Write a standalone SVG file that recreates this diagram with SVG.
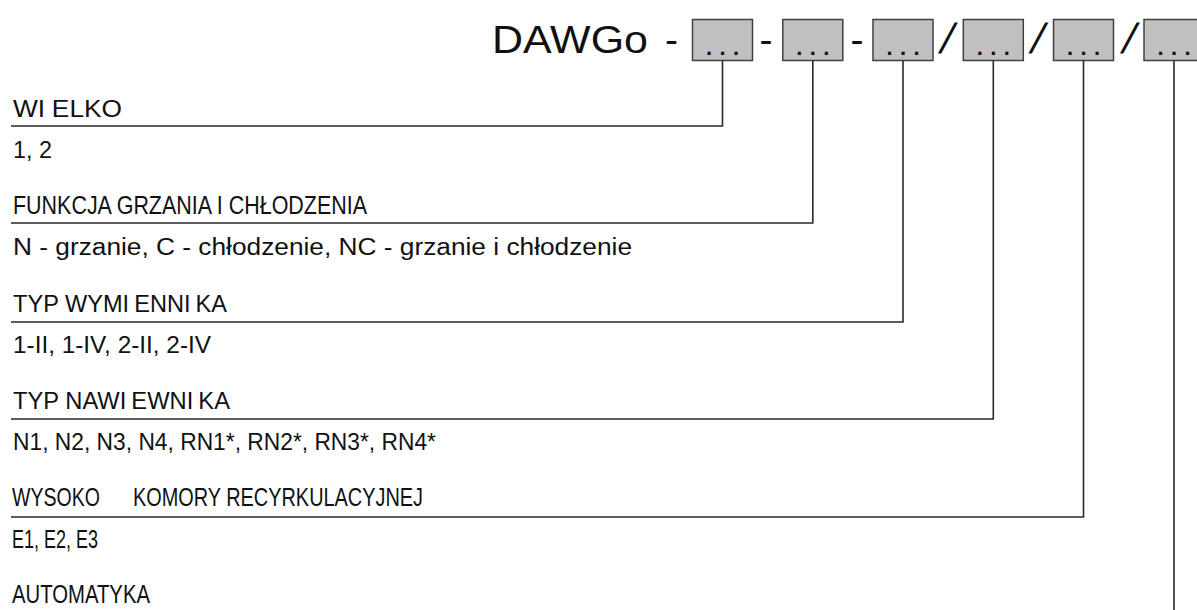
<svg xmlns="http://www.w3.org/2000/svg" width="1197" height="610" viewBox="0 0 1197 610">
<style>
  .t { font-family: "Liberation Sans", Arial, sans-serif; font-size: 23.5px; fill: #111; }
  .n { font-family: "Liberation Sans", Arial, sans-serif; font-size: 25px; fill: #111; }
  .big { font-family: "Liberation Sans", Arial, sans-serif; font-size: 39px; fill: #111; }
  .sl { font-family: "Liberation Sans", Arial, sans-serif; font-size: 42px; fill: #111; }
  .box { fill: #c0c0c0; stroke: #404040; stroke-width: 1.5; }
  .dots { font-family: "Liberation Sans", Arial, sans-serif; font-size: 22px; font-weight: bold; fill: #111; letter-spacing: 7.4px; }
  .c { fill: none; stroke: #2a2a2a; stroke-width: 1.6; }
</style>
<rect width="1197" height="610" fill="#ffffff"/>

<g id="title">
  <text class="big" x="492" y="53" textLength="156" lengthAdjust="spacingAndGlyphs">DAWGo</text>
  <text class="big" x="665" y="53">-</text>
  <text class="big" x="759.5" y="53">-</text>
  <text class="big" x="850.5" y="53">-</text>
  <text class="sl" transform="translate(943.8,53) skewX(-15)" text-anchor="middle">/</text>
  <text class="sl" transform="translate(1034.3,53) skewX(-15)" text-anchor="middle">/</text>
  <text class="sl" transform="translate(1125.8,53) skewX(-15)" text-anchor="middle">/</text>
</g>

<g id="box1"><rect class="box" x="692.5" y="19.5" width="60" height="41"/><text class="dots" x="705.9" y="55">...</text></g>
<g id="box2"><rect class="box" x="782.8" y="19.5" width="60" height="41"/><text class="dots" x="796.2" y="55">...</text></g>
<g id="box3"><rect class="box" x="873" y="19.5" width="60" height="41"/><text class="dots" x="886.4" y="55">...</text></g>
<g id="box4"><rect class="box" x="963.3" y="19.5" width="60" height="41"/><text class="dots" x="976.7" y="55">...</text></g>
<g id="box5"><rect class="box" x="1053.5" y="19.5" width="60" height="41"/><text class="dots" x="1066.9" y="55">...</text></g>
<g id="box6"><rect class="box" x="1144" y="19.5" width="60" height="41"/><text class="dots" x="1157.4" y="55">...</text></g>

<g id="connectors">
  <polyline class="c" points="722.5,60.5 722.5,126 11,126"/>
  <polyline class="c" points="812.8,60.5 812.8,223 11,223"/>
  <polyline class="c" points="903,60.5 903,322 11,322"/>
  <polyline class="c" points="993.3,60.5 993.3,419 11,419"/>
  <polyline class="c" points="1083.5,60.5 1083.5,517 11,517"/>
  <polyline class="c" points="1174,60.5 1174,610"/>
</g>

<g id="field1">
  <text class="t" x="13" y="117" textLength="109" lengthAdjust="spacingAndGlyphs">WI<tspan dx="6">ELKO</tspan></text>
  <text class="t" x="13" y="158" textLength="39" lengthAdjust="spacingAndGlyphs">1, 2</text>
</g>
<g id="field2">
  <text class="n" x="13" y="214" textLength="354" lengthAdjust="spacingAndGlyphs">FUNKCJA GRZANIA I CHŁODZENIA</text>
  <text class="t" x="13" y="255" textLength="619" lengthAdjust="spacingAndGlyphs">N - grzanie, C - chłodzenie, NC - grzanie i chłodzenie</text>
</g>
<g id="field3">
  <text class="t" x="13" y="312" textLength="214" lengthAdjust="spacingAndGlyphs">TYP WYMI<tspan dx="5">ENNI</tspan><tspan dx="5">KA</tspan></text>
  <text class="t" x="13" y="353" textLength="198" lengthAdjust="spacingAndGlyphs">1-II, 1-IV, 2-II, 2-IV</text>
</g>
<g id="field4">
  <text class="t" x="13" y="409" textLength="217" lengthAdjust="spacingAndGlyphs">TYP NAWI<tspan dx="5">EWNI</tspan><tspan dx="5">KA</tspan></text>
  <text class="t" x="13" y="450" textLength="423" lengthAdjust="spacingAndGlyphs">N1, N2, N3, N4, RN1*, RN2*, RN3*, RN4*</text>
</g>
<g id="field5">
  <text class="n" x="12" y="506" textLength="88" lengthAdjust="spacingAndGlyphs">WYSOKO</text>
  <text class="n" x="133" y="506" textLength="290" lengthAdjust="spacingAndGlyphs">KOMORY RECYRKULACYJNEJ</text>
  <text class="n" x="12" y="548" textLength="86" lengthAdjust="spacingAndGlyphs">E1, E2, E3</text>
</g>
<g id="field6">
  <text class="n" x="12" y="603" textLength="138" lengthAdjust="spacingAndGlyphs">AUTOMATYKA</text>
</g>
</svg>
